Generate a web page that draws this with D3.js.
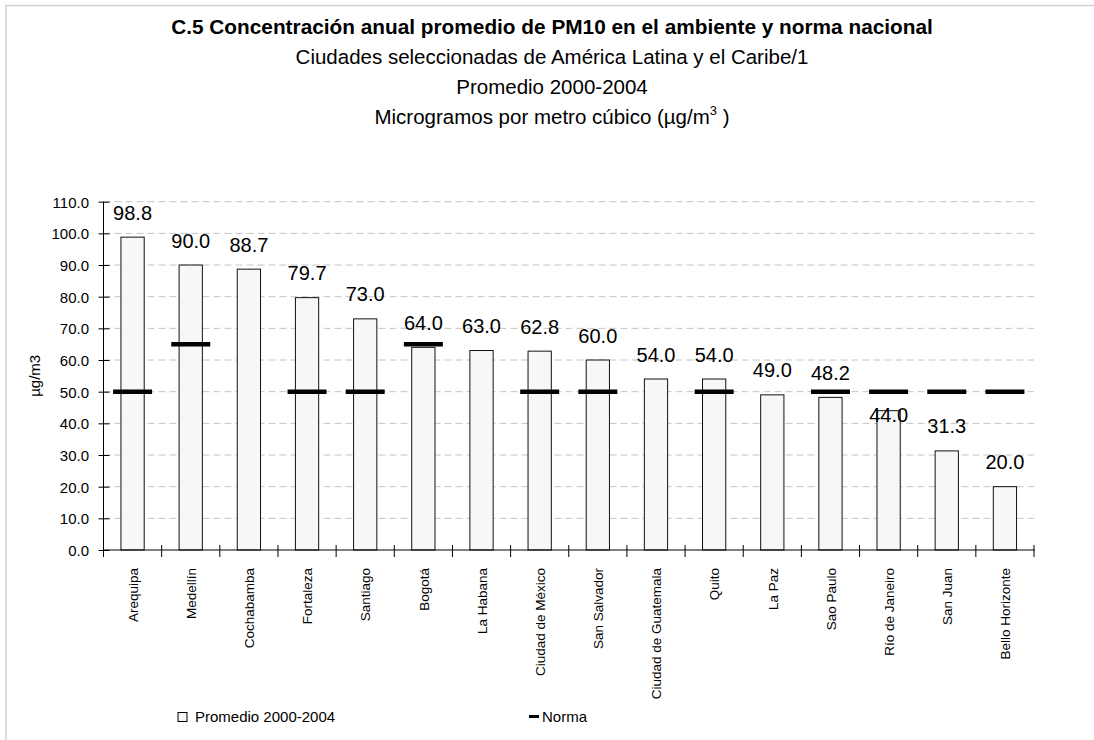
<!DOCTYPE html>
<html>
<head>
<meta charset="utf-8">
<script src="https://cdn.jsdelivr.net/npm/d3@7/dist/d3.min.js"></script>
<style>
  html, body { margin: 0; padding: 0; background: #fff; }
  svg text { font-family: "Liberation Sans", Arial, sans-serif; fill: #000; }
</style>
</head>
<body>
<svg id="chart" width="1094" height="740"></svg>
<script>
// Cities, ordered by annual average PM10
const cities = ["Arequipa", "Medellín", "Cochabamba", "Fortaleza", "Santiago", "Bogotá",
  "La Habana", "Ciudad de México", "San Salvador", "Ciudad de Guatemala", "Quito",
  "La Paz", "Sao Paulo", "Río de Janeiro", "San Juan", "Bello Horizonte"];

// Average 2000-2004 (µg/m3)
const promedio = [98.8, 90.0, 88.7, 79.7, 73.0, 64.0, 63.0, 62.8, 60.0, 54.0, 54.0,
  49.0, 48.2, 44.0, 31.3, 20.0];

// National standard (null where there is none)
const norma = [50, 65, null, 50, 50, 65, null, 50, 50, null, 50, null, 50, 50, 50, 50];

// Y axis ticks
const yTicks = [0, 10, 20, 30, 40, 50, 60, 70, 80, 90, 100, 110];

const svg = d3.select("#chart");

// Outer frame
svg.append("path")
  .attr("d", "M6,745 L6,5.5 L1100,5.5")
  .attr("fill", "none").attr("stroke", "#cfcfcf").attr("stroke-width", 1.5);

// Titles
const cx = 552;
svg.append("text").attr("x", cx).attr("y", 34).attr("text-anchor", "middle")
  .attr("font-size", 20.8).attr("font-weight", "bold")
  .text("C.5 Concentración anual promedio de PM10 en el ambiente y norma nacional");
svg.append("text").attr("x", cx).attr("y", 64).attr("text-anchor", "middle")
  .attr("font-size", 20.5).text("Ciudades seleccionadas de América Latina y el Caribe/1");
svg.append("text").attr("x", cx).attr("y", 94).attr("text-anchor", "middle")
  .attr("font-size", 20.5).text("Promedio 2000-2004");
const unit = svg.append("text").attr("x", cx).attr("y", 124).attr("text-anchor", "middle")
  .attr("font-size", 20.5);
unit.append("tspan").text("Microgramos por metro cúbico (µg/m");
unit.append("tspan").attr("font-size", 13).attr("dy", -9).text("3");
unit.append("tspan").attr("dy", 9).text(" )");

// Scales
const plotL = 103.5, plotR = 1034, plotT = 201.7, plotB = 550;
const x = d3.scaleBand().domain(cities).range([plotL, plotR])
  .paddingInner(0.6).paddingOuter(0.3);
const step = x.step();
const y = d3.scaleLinear().domain([0, 110]).range([plotB, plotT]);

// Dashed gridlines
svg.append("g").selectAll("line")
  .data(yTicks.filter(t => t > 0))
  .join("line")
  .attr("x1", plotL).attr("x2", plotR)
  .attr("y1", d => y(d)).attr("y2", d => y(d))
  .attr("stroke", "#c4c4c4").attr("stroke-width", 1)
  .attr("stroke-dasharray", "7,4");

// Y axis
const yAxis = svg.append("g").attr("transform", `translate(${plotL},0)`)
  .call(d3.axisLeft(y).tickValues(yTicks).tickFormat(d3.format(".1f")).tickSize(5).tickPadding(0));
yAxis.select(".domain").attr("stroke", "#000").attr("d", `M0,${plotB}V${plotT}`);
yAxis.selectAll(".tick line").attr("x1", -5).attr("x2", 6).attr("stroke", "#000");
yAxis.selectAll(".tick text").attr("x", -14.5).attr("dy", "0.36em")
  .attr("font-size", 15).attr("font-family", null);

// Y axis title
svg.append("text")
  .attr("transform", `translate(40,${(plotT + plotB) / 2}) rotate(-90)`)
  .attr("text-anchor", "middle").attr("font-size", 15).text("µg/m3");

// Bars
svg.append("g").selectAll("rect")
  .data(cities)
  .join("rect")
  .attr("x", d => x(d))
  .attr("width", x.bandwidth())
  .attr("y", (d, i) => y(promedio[i]))
  .attr("height", (d, i) => plotB - y(promedio[i]))
  .attr("fill", "#f7f7f7").attr("stroke", "#111").attr("stroke-width", 1);

// X axis line and category boundary ticks
svg.append("line").attr("x1", plotL).attr("x2", plotR + 1)
  .attr("y1", plotB).attr("y2", plotB).attr("stroke", "#000");
const bounds = cities.map(c => x(c) - step * 0.3).concat([plotR]);
svg.append("g").selectAll("line")
  .data(bounds)
  .join("line")
  .attr("x1", d => d).attr("x2", d => d)
  .attr("y1", plotB - 5).attr("y2", plotB + 7)
  .attr("stroke", "#000");

// Category labels
svg.append("g").selectAll("text")
  .data(cities)
  .join("text")
  .attr("transform", d => `translate(${x(d) + x.bandwidth() / 2 + 0.5},568) rotate(-90)`)
  .attr("text-anchor", "end").attr("dy", "0.35em")
  .attr("font-size", 13.5).text(d => d);

// Standard markers
const markW = 39;
svg.append("g").selectAll("line")
  .data(cities.map((c, i) => ({ c, v: norma[i] })).filter(d => d.v != null))
  .join("line")
  .attr("x1", d => x(d.c) + x.bandwidth() / 2 - markW / 2)
  .attr("x2", d => x(d.c) + x.bandwidth() / 2 + markW / 2)
  .attr("y1", d => y(d.v)).attr("y2", d => y(d.v))
  .attr("stroke", "#000").attr("stroke-width", 4.5);

// Value labels above bars; moved below the standard marker where they would cross it
svg.append("g").selectAll("text")
  .data(cities)
  .join("text")
  .attr("x", d => x(d) + x.bandwidth() / 2)
  .attr("y", (d, i) => {
    let base = y(promedio[i]) - 17.5;
    const n = norma[i];
    if (n != null) {
      const ny = y(n);
      if (base > ny - 3 && base - 15 < ny + 3) base = ny + 30;
    }
    return base;
  })
  .attr("text-anchor", "middle").attr("font-size", 20)
  .text((d, i) => d3.format(".1f")(promedio[i]));

// Legend
svg.append("rect").attr("x", 178).attr("y", 712.5).attr("width", 9).attr("height", 9)
  .attr("fill", "#f7f7f7").attr("stroke", "#000").attr("stroke-width", 1);
svg.append("text").attr("x", 195).attr("y", 722).attr("font-size", 15).text("Promedio 2000-2004");
svg.append("line").attr("x1", 529).attr("x2", 539).attr("y1", 716.5).attr("y2", 716.5)
  .attr("stroke", "#000").attr("stroke-width", 3);
svg.append("text").attr("x", 542).attr("y", 722).attr("font-size", 15).text("Norma");
</script>
</body>
</html>
